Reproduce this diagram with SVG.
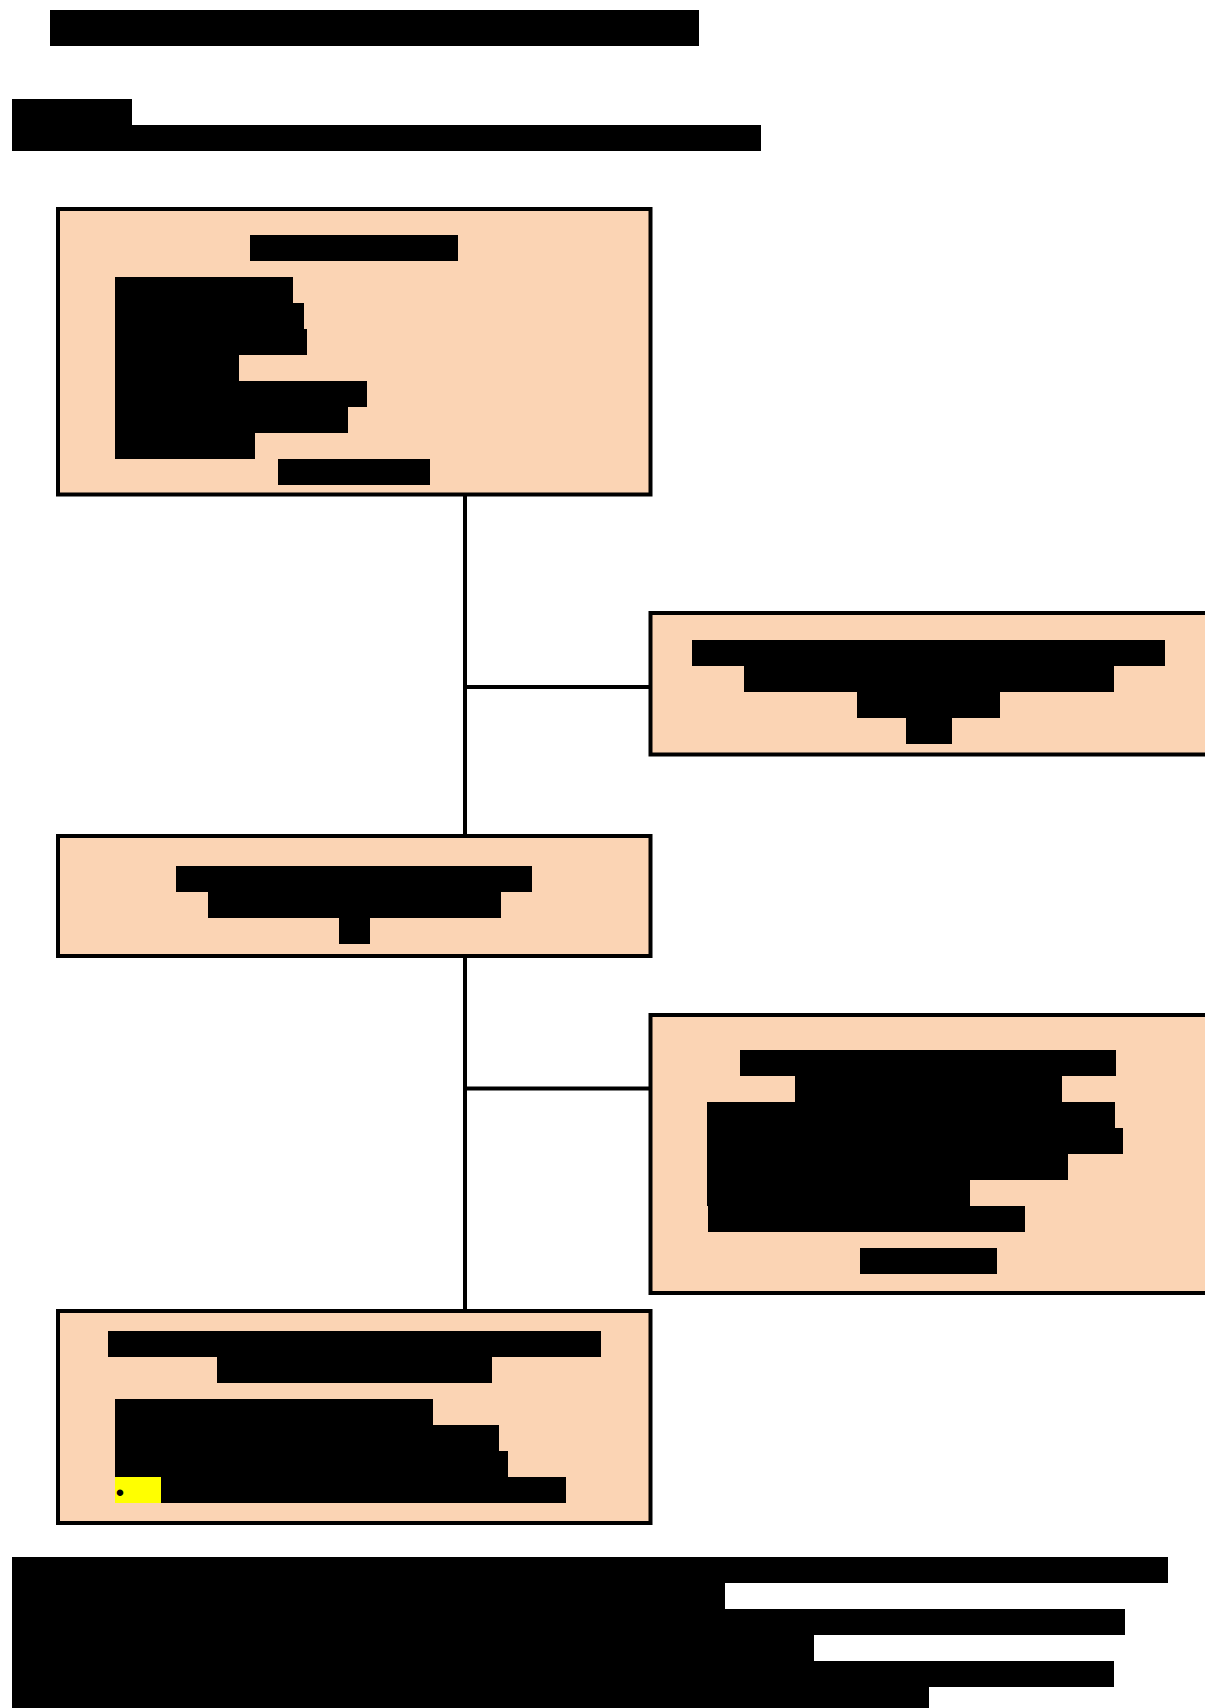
<svg xmlns="http://www.w3.org/2000/svg" width="1205" height="1708" viewBox="0 0 1205 1708">
  <style>
    .box { fill: #FBD4B4; stroke: #000; stroke-width: 4; }
    .hl { fill: #000; }
    .hly { fill: #FFFF00; }
    .conn { stroke: #000; stroke-width: 4; fill: none; }
    .bullet { font-family: "Liberation Sans", Arial, sans-serif; font-size: 24px; fill: #000; }
  </style>
  <rect x="0" y="0" width="1205" height="1708" fill="#fff"/>

  <g id="title">
    <rect class="hl" x="50" y="10" width="649" height="36"/>
  </g>
  <g id="header">
    <rect class="hl" x="12" y="99" width="120" height="26"/>
    <rect class="hl" x="12" y="125" width="749" height="26"/>
  </g>

  <g id="connectors">
    <line class="conn" x1="465" y1="494.5" x2="465" y2="836"/>
    <line class="conn" x1="465" y1="956" x2="465" y2="1311"/>
    <line class="conn" x1="465" y1="687" x2="650.5" y2="687"/>
    <line class="conn" x1="465" y1="1088.5" x2="650.5" y2="1088.5"/>
  </g>

  <g id="node1">
    <rect class="box" x="58" y="209" width="592.5" height="285.5"/>
    <rect class="hl" x="250" y="235" width="208" height="26"/>
    <rect class="hl" x="115" y="277" width="178" height="26"/>
    <rect class="hl" x="115" y="303" width="189" height="26"/>
    <rect class="hl" x="115" y="329" width="192" height="26"/>
    <rect class="hl" x="115" y="355" width="124" height="26"/>
    <rect class="hl" x="115" y="381" width="252" height="26"/>
    <rect class="hl" x="115" y="407" width="233" height="26"/>
    <rect class="hl" x="115" y="433" width="140" height="26"/>
    <rect class="hl" x="278" y="459" width="152" height="26"/>
  </g>

  <g id="node2">
    <rect class="box" x="650.5" y="613" width="557" height="141.5"/>
    <rect class="hl" x="692" y="640" width="473" height="26"/>
    <rect class="hl" x="744" y="666" width="370" height="26"/>
    <rect class="hl" x="857" y="692" width="143" height="26"/>
    <rect class="hl" x="906" y="718" width="46" height="26"/>
  </g>

  <g id="node3">
    <rect class="box" x="58" y="836" width="592.5" height="120"/>
    <rect class="hl" x="176" y="866" width="356" height="26"/>
    <rect class="hl" x="208" y="892" width="293" height="26"/>
    <rect class="hl" x="339" y="918" width="31" height="26"/>
  </g>

  <g id="node4">
    <rect class="box" x="650.5" y="1015" width="557" height="278"/>
    <rect class="hl" x="740" y="1050" width="376" height="26"/>
    <rect class="hl" x="795" y="1076" width="267" height="26"/>
    <rect class="hl" x="707" y="1102" width="408" height="26"/>
    <rect class="hl" x="707" y="1128" width="416" height="26"/>
    <rect class="hl" x="707" y="1154" width="361" height="26"/>
    <rect class="hl" x="707" y="1180" width="263" height="26"/>
    <rect class="hl" x="708" y="1206" width="317" height="26"/>
    <rect class="hl" x="860" y="1248" width="137" height="26"/>
  </g>

  <g id="node5">
    <rect class="box" x="58" y="1311" width="592.5" height="212"/>
    <rect class="hl" x="108" y="1331" width="493" height="26"/>
    <rect class="hl" x="217" y="1357" width="275" height="26"/>
    <rect class="hl" x="115" y="1399" width="318" height="26"/>
    <rect class="hl" x="115" y="1425" width="384" height="26"/>
    <rect class="hl" x="115" y="1451" width="393" height="26"/>
    <rect class="hly" x="115" y="1477" width="46" height="26"/>
    <rect class="hl" x="161" y="1477" width="405" height="26"/>
    <text class="bullet" x="120" y="1501" text-anchor="middle">•</text>
  </g>

  <g id="footer">
    <rect class="hl" x="12" y="1557" width="1156" height="26"/>
    <rect class="hl" x="12" y="1583" width="713" height="26"/>
    <rect class="hl" x="12" y="1609" width="1113" height="26"/>
    <rect class="hl" x="12" y="1635" width="802" height="26"/>
    <rect class="hl" x="12" y="1661" width="1102" height="26"/>
    <rect class="hl" x="12" y="1687" width="917" height="26"/>
  </g>
</svg>
